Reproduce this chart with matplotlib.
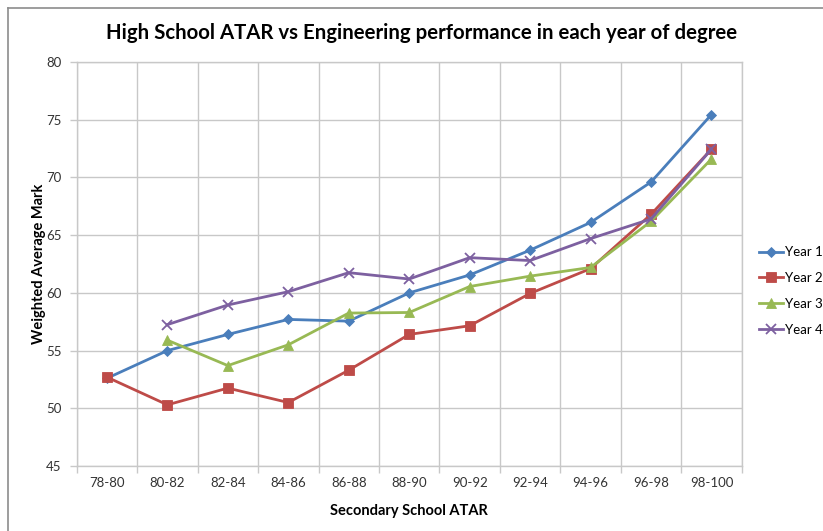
import matplotlib.pyplot as plt
from matplotlib.lines import Line2D

plt.rcParams['font.family'] = ['Lato', 'DejaVu Sans']

atar_bands = ["78-80", "80-82", "82-84", "84-86", "86-88", "88-90",
              "90-92", "92-94", "94-96", "96-98", "98-100"]

year1 = [52.6, 55.0, 56.4, 57.7, 57.55, 60.0, 61.55, 63.7, 66.1, 69.6, 75.45]
year2 = [52.7, 50.3, 51.75, 50.5, 53.3, 56.4, 57.15, 59.95, 62.1, 66.8, 72.45]
# years 3 and 4 have no entry for the lowest band
year3 = [None, 55.9, 53.7, 55.5, 58.25, 58.3, 60.55, 61.45, 62.2, 66.2, 71.6]
year4 = [None, 57.25, 58.95, 60.1, 61.75, 61.2, 63.05, 62.8, 64.7, 66.4, 72.45]

series = [
    ("Year 1", year1, "#4A7EBB", "D", 5),
    ("Year 2", year2, "#BE4B48", "s", 7),
    ("Year 3", year3, "#98B954", "^", 7),
    ("Year 4", year4, "#7D60A0", "x", 7),
]

fig = plt.figure(figsize=(8.23, 5.31), dpi=100)
ax = fig.add_axes([0.0932, 0.1224, 0.808, 0.7608])

x = list(range(len(atar_bands)))
for name, vals, col, mk, ms in series:
    xs = [i for i, v in zip(x, vals) if v is not None]
    ys = [v for v in vals if v is not None]
    ax.plot(xs, ys, color=col, lw=2, marker=mk, markersize=ms,
            markeredgewidth=1.3 if mk == "x" else 0.6,
            markeredgecolor=col, markerfacecolor=col, label=name, zorder=3)

ax.set_xlim(-0.5, len(atar_bands) - 0.5)
ax.set_ylim(45, 80)
ax.set_yticks(range(45, 81, 5))
ax.set_xticks(x)
ax.set_xticklabels(atar_bands)
ax.set_xticks([i - 0.5 for i in range(len(atar_bands) + 1)], minor=True)

grid_col = "#C8C8C8"
ax.grid(axis="y", which="major", color=grid_col, lw=1)
ax.grid(axis="x", which="minor", color=grid_col, lw=1)
ax.tick_params(axis="x", which="major", length=0, pad=8, labelsize=9.5, labelcolor="#333333")
ax.tick_params(axis="x", which="minor", length=5, color=grid_col, width=1)
ax.tick_params(axis="y", length=5, color=grid_col, width=1, pad=6, labelsize=9.5, labelcolor="#333333")
for s in ax.spines.values():
    s.set_color(grid_col)
    s.set_linewidth(1)

ax.set_xlabel("Secondary School ATAR", fontsize=10.5, fontweight="bold", labelpad=11)
ax.set_ylabel("Weighted Average Mark", fontsize=10.5, fontweight="bold", labelpad=0)
fig.text(0.512, 0.938, "High School ATAR vs Engineering performance in each year of degree",
         ha="center", va="center", fontsize=14.7, fontweight="bold")

ax.legend(loc="center left", bbox_to_anchor=(0.922, 0.452), bbox_transform=fig.transFigure,
          frameon=False, fontsize=9.5, handlelength=1.8, handletextpad=0.15,
          labelspacing=1.05, borderpad=0, borderaxespad=0)

# outer chart frame (top and left edges)
fig.add_artist(Line2D([8 / 823, 1], [1 - 8 / 531, 1 - 8 / 531], transform=fig.transFigure,
                      color="#8C8C8C", lw=1.2))
fig.add_artist(Line2D([8 / 823, 8 / 823], [0, 1 - 8 / 531], transform=fig.transFigure,
                      color="#8C8C8C", lw=1.2))

fig.savefig("out.png", dpi=100)
